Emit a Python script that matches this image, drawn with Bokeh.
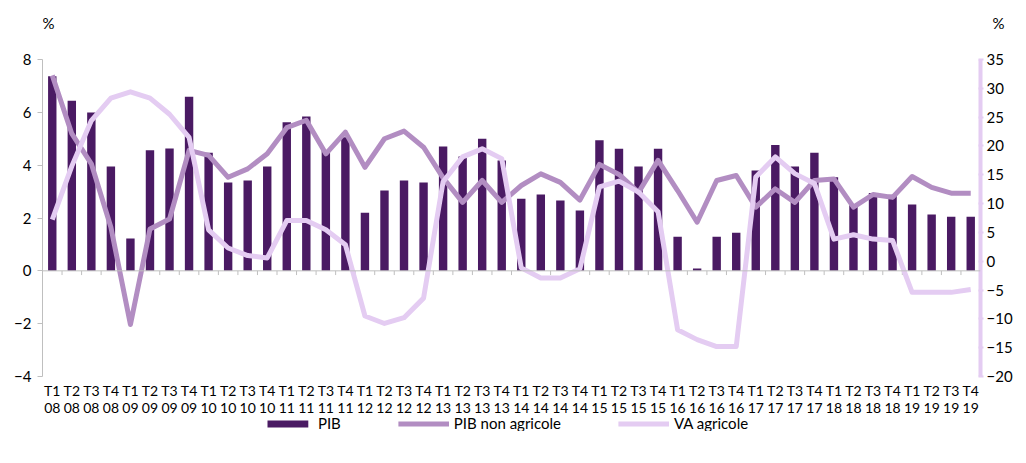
from bokeh.plotting import figure
from bokeh.models import (Range1d, LinearAxis, FixedTicker, Span, Legend, LegendItem,
                          ColumnDataSource)
from bokeh.layouts import column
from bokeh.core.properties import value
from bokeh.embed import file_html
from bokeh.resources import INLINE

quarters = ["T1", "T2", "T3", "T4"]
years = ["08", "09", "10", "11", "12", "13", "14", "15", "16", "17", "18", "19"]
quarter_labels = [q for y in years for q in quarters]
year_labels = [y for y in years for q in quarters]

pib = [7.37, 6.44, 5.99, 3.95, 1.22, 4.56, 4.63, 6.59,
       4.47, 3.34, 3.42, 3.95, 5.62, 5.84, 4.56, 5.06,
       2.20, 3.04, 3.42, 3.34, 4.71, 4.33, 5.00, 4.18,
       2.73, 2.89, 2.66, 2.28, 4.94, 4.62, 3.95, 4.62,
       1.29, 0.09, 1.29, 1.44, 3.80, 4.76, 3.95, 4.47,
       3.54, 2.48, 2.95, 2.88, 2.51, 2.13, 2.05, 2.05]

pib_non_agricole = [7.40, 5.19, 4.05, 1.65, -2.03, 1.58, 1.96, 4.56,
                    4.37, 3.54, 3.86, 4.43, 5.42, 5.70, 4.43, 5.25,
                    3.92, 5.00, 5.29, 4.68, 3.52, 2.59, 3.42, 2.59,
                    3.23, 3.67, 3.35, 2.68, 4.03, 3.65, 2.97, 4.18,
                    3.04, 1.84, 3.42, 3.61, 2.41, 3.10, 2.59, 3.42,
                    3.48, 2.41, 2.89, 2.78, 3.57, 3.16, 2.94, 2.94]

va_agricole = [7.2, 16.5, 24.4, 28.3, 29.4, 28.3, 25.5, 21.5,
               5.45, 2.3, 0.98, 0.57, 7.06, 7.06, 5.45, 2.87,
               -9.5, -10.8, -9.8, -6.4, 13.8, 18.1, 19.5, 17.8,
               -1.15, -2.9, -2.9, -1.3, 12.9, 13.9, 12.0, 8.6,
               -11.9, -13.6, -14.8, -14.8, 14.6, 18.1, 15.2, 13.5,
               3.84, 4.6, 3.84, 3.6, -5.4, -5.4, -5.4, -4.9]

left_ticks = [-4, -2, 0, 2, 4, 6, 8]
right_ticks = [-20, -15, -10, -5, 0, 5, 10, 15, 20, 25, 30, 35]
unit_labels = ["%", "%"]

C_BAR = "#4A1A63"
C_PIBNA = "#B28DC2"
C_VA = "#E4CCF2"
GRAY = "#BFBFBF"
FONT = "Lato"
W = 1010
SHIFT = 42  # the column aligns the top strip's frame with the chart's frame

n = len(quarter_labels)
xs = list(range(n))


def strip(h, xr, yr):
    f = figure(frame_width=W, frame_height=h, output_backend="svg", toolbar_location=None,
               x_range=xr, y_range=yr, x_axis_type=None, y_axis_type=None,
               min_border=0, min_border_left=0, min_border_right=0,
               min_border_top=0, min_border_bottom=0)
    f.outline_line_color = None
    f.grid.visible = False
    f.background_fill_color = "white"
    f.border_fill_color = "white"
    return f


# ---- top strip with the unit labels (page-pixel coordinates) ----
top = strip(51, Range1d(SHIFT, W + SHIFT), Range1d(0, 51))
top.text(x=[48, 998], y=[29, 29], text=unit_labels, text_font=value(FONT),
         text_font_size="15px", text_align="center", text_baseline="middle",
         text_color="#000000")

# ---- main chart ----
src = ColumnDataSource(dict(x=xs, pib=pib, pibna=pib_non_agricole, va=va_agricole))

p = figure(frame_width=938, frame_height=317, output_backend="svg", toolbar_location=None,
           x_range=Range1d(-0.5, n - 0.5), y_range=Range1d(-4, 8),
           min_border_left=42, min_border_right=30, min_border_top=8, min_border_bottom=0)
p.extra_y_ranges = {"right": Range1d(-20, 35)}
p.outline_line_color = None
p.xgrid.visible = False
p.ygrid.visible = False
p.background_fill_color = "white"
p.border_fill_color = "white"


def style_x(ax, texts, standoff):
    ax.ticker = FixedTicker(ticks=xs)
    ax.major_label_overrides = {i: texts[i] for i in xs}
    ax.axis_line_color = None
    ax.major_tick_line_color = None
    ax.major_tick_in = 0
    ax.major_tick_out = 0
    ax.minor_tick_line_color = None
    ax.major_label_text_font = FONT
    ax.major_label_text_font_size = "14px"
    ax.major_label_text_color = "#000000"
    ax.major_label_standoff = standoff


style_x(p.xaxis[0], quarter_labels, 5)
xa2 = LinearAxis()
style_x(xa2, year_labels, 1)
p.add_layout(xa2, "below")

ya = p.yaxis[0]
ya.ticker = FixedTicker(ticks=left_ticks)
ya.axis_line_color = GRAY
ya.major_tick_line_color = GRAY
ya.major_tick_in = 0
ya.major_tick_out = 5
ya.minor_tick_line_color = None
ya.major_label_text_font = FONT
ya.major_label_text_font_size = "15px"
ya.major_label_text_color = "#000000"
ya.major_label_standoff = 6

ra = LinearAxis(y_range_name="right", ticker=FixedTicker(ticks=right_ticks))
ra.axis_line_color = C_VA
ra.axis_line_width = 4
ra.major_tick_line_color = C_VA
ra.major_tick_line_width = 2
ra.major_tick_in = 2
ra.major_tick_out = 3
ra.minor_tick_line_color = None
ra.major_label_text_font = FONT
ra.major_label_text_font_size = "15px"
ra.major_label_text_color = "#000000"
ra.major_label_standoff = 3
p.add_layout(ra, "right")

p.add_layout(Span(location=0, dimension="width", line_color=GRAY, line_width=1))
bx = [i - 0.5 for i in range(n + 1)]
p.segment(x0=bx, y0=[0] * len(bx), x1=bx, y1=[-0.16] * len(bx), line_color=GRAY, line_width=1)

p.vbar(x="x", top="pib", width=0.43, bottom=0, source=src, fill_color=C_BAR, line_color=None)
p.line(x="x", y="pibna", source=src, line_color=C_PIBNA, line_width=5, line_join="round")
p.line(x="x", y="va", source=src, line_color=C_VA, line_width=5, line_join="round",
       y_range_name="right")

# ---- legend strip (proxy renderers lie outside the strip's ranges) ----
leg = strip(16, Range1d(0, 1), Range1d(0, 1))
lb = leg.vbar(x=[5], top=[6], bottom=[5], width=0.5, fill_color=C_BAR, line_color=None)
ll1 = leg.line(x=[5, 6], y=[5, 5], line_color=C_PIBNA, line_width=5)
ll2 = leg.line(x=[5, 6], y=[5, 5], line_color=C_VA, line_width=5)
legend = Legend(items=[LegendItem(label="PIB", renderers=[lb]),
                       LegendItem(label="PIB non agricole", renderers=[ll1]),
                       LegendItem(label="VA agricole", renderers=[ll2])],
                orientation="horizontal", location="center")
legend.glyph_width = 51
legend.glyph_height = 9
legend.label_height = 14
legend.label_text_font = FONT
legend.label_text_font_size = "15px"
legend.label_text_color = "#000000"
legend.label_standoff = 5
legend.spacing = 57
legend.padding = 0
legend.margin = 0
legend.border_line_color = None
legend.background_fill_alpha = 0
leg.add_layout(legend)

layout = column(top, p, leg, spacing=0)
open("out.html", "w").write(file_html(layout, INLINE))
